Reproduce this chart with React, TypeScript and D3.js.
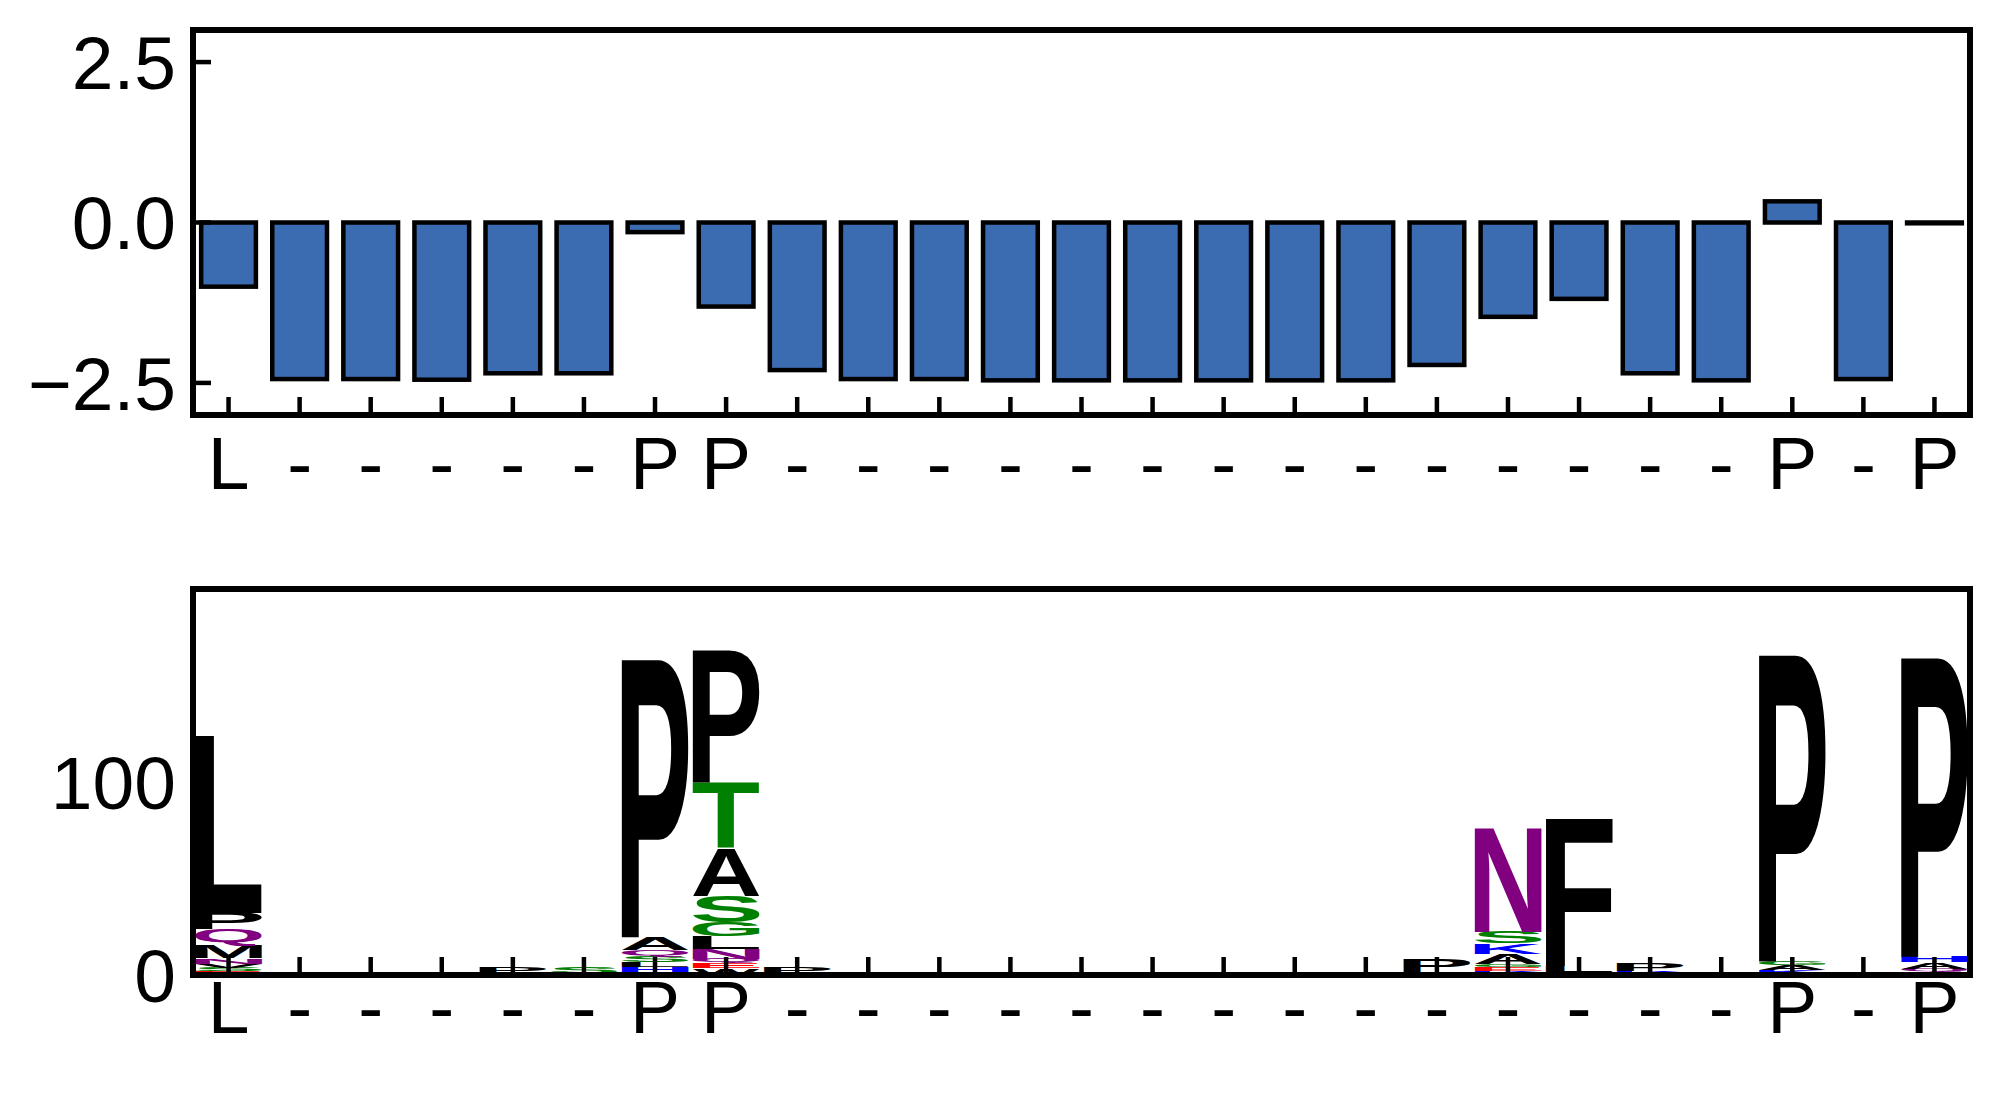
import React, { useMemo } from 'react';
import * as d3 from 'd3';

const W = 1998;
const H = 1095;

// x categories (residue labels)
const positions = ["L","-","-","-","-","-","P","P","-","-","-","-","-","-","-","-","-","-","-","-","-","-","P","-","P"];

// top panel: per-position score
const scores = [-1.0, -2.44, -2.44, -2.45, -2.35, -2.35, -0.15, -1.31, -2.30, -2.44, -2.44, -2.46, -2.46, -2.46, -2.46, -2.46, -2.46, -2.22, -1.47, -1.19, -2.35, -2.46, 0.33, -2.44, 0.0];
const scoreTicks = [2.5, 0, -2.5];
const scoreTickLabels = ["2.5", "0.0", "\u22122.5"];

// bottom panel: sequence logo stacks (bottom -> top)
const stackLetters: string[][] = [
  ["E","S","V","N","M","Q","P","L"],
  ["G"],
  ["G"],
  ["G"],
  ["V","P"],
  ["N","S"],
  ["D","H","L","S","Q","A","P"],
  ["W","E","Q","N","L","G","S","A","T","P"],
  ["V","P"],
  [], [], [], [], [], [], [], [],
  ["S","P"],
  ["K","E","G","A","K","S","N"],
  ["S","L","F"],
  ["K","P"],
  [],
  ["S","K","A","G","P"],
  [],
  ["K","Q","A","H","P"],
];
const stackCounts: number[][] = [
  [1.8, 1.8, 2.2, 2.8, 6.5, 8.5, 8.5, 92],
  [0.6],
  [0.6],
  [0.6],
  [0.8, 3.5],
  [1.0, 3.5],
  [1.5, 2.5, 2.5, 3, 3.5, 6.5, 145],
  [3.5, 2.5, 2.5, 5, 6.5, 7.5, 13.5, 25, 34, 69],
  [1, 3],
  [], [], [], [], [], [], [], [],
  [1.5, 6.5],
  [2, 2, 1.5, 5.5, 5.5, 6, 54],
  [1.8, 3, 77],
  [2, 3.6],
  [],
  [1, 1.5, 2.5, 2, 160],
  [],
  [1.5, 1.5, 3.5, 3, 156],
];
const countTicks = [0, 100];

const letterColor = (c: string) => {
  if ("GSTYC".includes(c)) return "#008000";
  if ("NQ".includes(c)) return "#800080";
  if ("KRH".includes(c)) return "#0000ff";
  if ("DE".includes(c)) return "#ff0000";
  return "#000000";
};

const FONT = '"Liberation Sans", Arial, Helvetica, sans-serif';
const GLYPH_SIZE = 200;

function useGlyphMetrics() {
  return useMemo(() => {
    const m: Record<string, { l: number; r: number; a: number; d: number }> = {};
    const letters = Array.from(new Set(stackLetters.flat()));
    let ctx: CanvasRenderingContext2D | null = null;
    try {
      const c = document.createElement('canvas');
      ctx = c.getContext('2d');
    } catch (e) { ctx = null; }
    letters.forEach((L) => {
      let rec = { l: 10, r: 130, a: 143, d: 0 };
      if (ctx) {
        ctx.font = `bold ${GLYPH_SIZE}px ${FONT}`;
        const t = ctx.measureText(L);
        if (t.actualBoundingBoxRight !== undefined && t.actualBoundingBoxAscent > 0) {
          rec = {
            l: -t.actualBoundingBoxLeft,
            r: t.actualBoundingBoxRight,
            a: t.actualBoundingBoxAscent,
            d: t.actualBoundingBoxDescent,
          };
        }
      }
      m[L] = rec;
    });
    return m;
  }, []);
}

export default function App() {
  const metrics = useGlyphMetrics();
  const left = 193, right = 1970;
  const topY0 = 30, topY1 = 415;
  const botY0 = 589, botY1 = 975;
  const idx = positions.map((_, i) => i);
  const x = d3.scaleBand<number>().domain(idx).range([left, right]).paddingInner(0).paddingOuter(0);
  const step = x.bandwidth();
  const cx = (i: number) => (x(i) as number) + step / 2;
  const yTop = d3.scaleLinear().domain([-3, 3]).range([topY1, topY0]);
  const yBot = d3.scaleLinear().domain([0, 200]).range([botY1, botY0]);

  const tickLen = 18;
  const tickW = 4.5;
  const frameW = 6;
  const fontSize = 75;
  const capH = 0.716 * fontSize;
  const labelGapTop = 74;
  const labelGapBot = 58;

  const barW = step * 0.77;
  const glyphW = step * 0.94;

  const glyphs: React.ReactNode[] = [];
  stackLetters.forEach((letters, i) => {
    let base = 0;
    letters.forEach((L, j) => {
      const v = stackCounts[i][j];
      const yb = yBot(base);
      const yt = yBot(base + v);
      base += v;
      const h = yb - yt;
      const m = metrics[L];
      const x0 = cx(i) - glyphW / 2;
      const sx = glyphW / (m.r - m.l);
      const sy = h / (m.a + m.d);
      glyphs.push(
        <text
          key={`g${i}-${j}`}
          transform={`translate(${x0 - m.l * sx},${yt + m.a * sy}) scale(${sx},${sy})`}
          fontFamily={FONT}
          fontWeight="bold"
          fontSize={GLYPH_SIZE}
          fill={letterColor(L)}
        >{L}</text>
      );
    });
  });

  const panels = [{ y1: topY1, gap: labelGapTop }, { y1: botY1, gap: labelGapBot }];

  return (
    <svg width={W} height={H} style={{ position: 'absolute', left: 0, top: 0, background: '#fff' }}>
      <rect x={0} y={0} width={W} height={H} fill="#fff" />
      {/* top panel bars */}
      {scores.map((v, i) => {
        const y0 = yTop(Math.max(v, 0));
        const y1 = yTop(Math.min(v, 0));
        return (
          <rect key={`b${i}`} x={cx(i) - barW / 2} y={y0} width={barW} height={Math.max(y1 - y0, 0.8)}
            fill="#3b6bb0" stroke="#000" strokeWidth={4.5} />
        );
      })}
      {/* bottom panel logo */}
      {glyphs}

      {/* ticks */}
      {panels.map((p, k) => (
        <g key={`xt${k}`}>
          {idx.map((i) => (
            <line key={i} x1={cx(i)} x2={cx(i)} y1={p.y1} y2={p.y1 - tickLen} stroke="#000" strokeWidth={tickW} />
          ))}
          {positions.map((s, i) => (
            <text key={`l${i}`} x={cx(i)} y={p.y1 + p.gap} textAnchor="middle" fontFamily={FONT} fontSize={fontSize} fill="#000">{s}</text>
          ))}
        </g>
      ))}
      {scoreTicks.map((t, k) => (
        <g key={`yt${k}`}>
          <line x1={left} x2={left + tickLen} y1={yTop(t)} y2={yTop(t)} stroke="#000" strokeWidth={tickW} />
          <text x={176} y={yTop(t) + capH / 2} textAnchor="end" fontFamily={FONT} fontSize={fontSize} fill="#000">{scoreTickLabels[k]}</text>
        </g>
      ))}
      {countTicks.map((t, k) => (
        <g key={`yb${k}`}>
          <line x1={left} x2={left + tickLen} y1={yBot(t)} y2={yBot(t)} stroke="#000" strokeWidth={tickW} />
          <text x={176} y={yBot(t) + capH / 2} textAnchor="end" fontFamily={FONT} fontSize={fontSize} fill="#000">{String(t)}</text>
        </g>
      ))}

      {/* frames */}
      <rect x={left} y={topY0} width={right - left} height={topY1 - topY0} fill="none" stroke="#000" strokeWidth={frameW} />
      <rect x={left} y={botY0} width={right - left} height={botY1 - botY0} fill="none" stroke="#000" strokeWidth={frameW} />
    </svg>
  );
}
